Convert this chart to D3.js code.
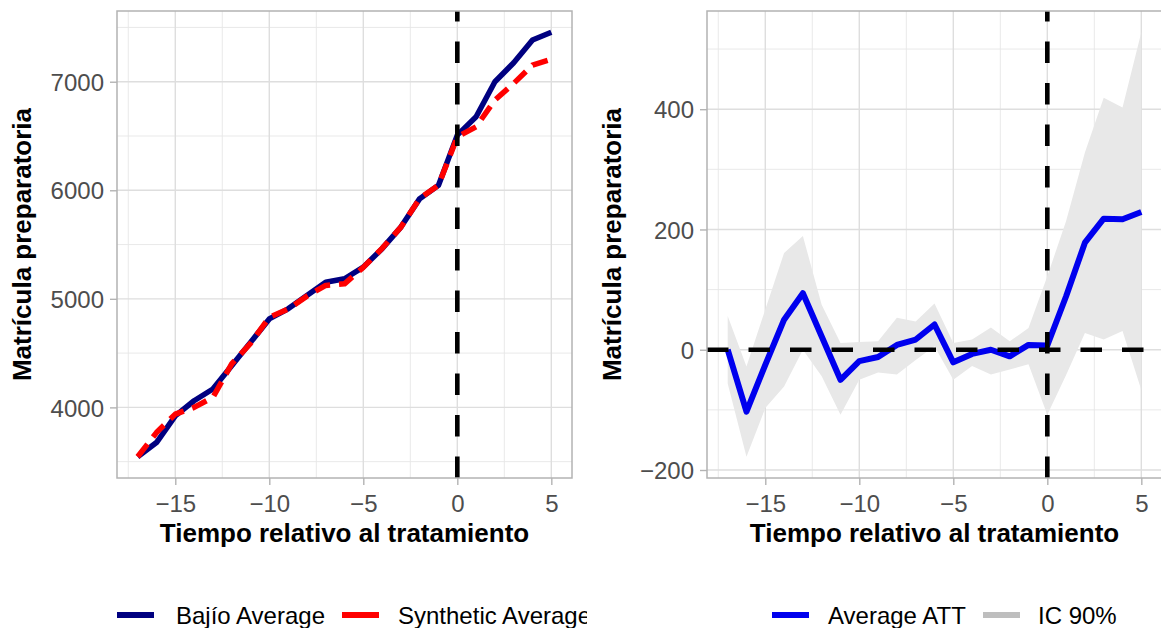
<!DOCTYPE html>
<html>
<head>
<meta charset="utf-8">
<script src="https://cdn.jsdelivr.net/npm/d3@7"></script>
<style>
  html, body { margin: 0; padding: 0; background: #fff; }
  svg { display: block; font-family: "Liberation Sans", Arial, Helvetica, sans-serif; }
</style>
</head>
<body>
<svg id="chart" width="1161" height="628"></svg>
<script>
// ---------- data ----------
const periods = [-17,-16,-15,-14,-13,-12,-11,-10,-9,-8,-7,-6,-5,-4,-3,-2,-1,0,1,2,3,4,5];
const bajioAverage = [3545,3676,3922,4061,4169,4384,4599,4815,4908,5030,5153,5185,5292,5462,5661,5923,6046,6508,6677,7000,7175,7385,7456];
const syntheticAverage = [3545,3768,3938,4000,4092,4400,4590,4830,4905,5025,5123,5138,5290,5465,5660,5925,6046,6492,6585,6831,6985,7154,7207];
const averageATT = [0,-103,-25,50,94,22,-50,-19,-12,8,17,42,-21,-7,0,-11,8,7,89,178,218,217,229];
const ciUpper = [56,-28,67,161,189,75,11,13,14,53,47,77,11,17,37,14,36,122,214,328,419,403,528];
const ciLower = [-56,-178,-97,-61,0,-44,-108,-50,-38,-41,-17,6,-50,-27,-41,-33,-24,-108,-42,28,17,31,-67];
const xTicks = [-15,-10,-5,0,5];
const xMinor = [-17.5,-12.5,-7.5,-2.5,2.5];
const leftYTicks = [4000,5000,6000,7000];
const leftYMinor = [3500,4500,5500,6500,7500];
const rightYTicks = [-200,0,200,400];
const rightYMinor = [-100,100,300,500];
const xTitle = "Tiempo relativo al tratamiento";
const yTitle = "Matrícula preparatoria";
const leftLegend = [{label:"Bajío Average", color:"#000080"}, {label:"Synthetic Average", color:"#ff0000"}];
const rightLegend = [{label:"Average ATT", color:"#0000ee"}, {label:"IC 90%", color:"#bebebe"}];

// ---------- helpers ----------
const svg = d3.select("#chart");
const fmt = d => (d < 0 ? "\u2212" + Math.abs(d) : String(d));
function expand(lo, hi, f = 0.05) { const r = hi - lo; return [lo - r * f, hi + r * f]; }

const panelTop = 11, panelBottom = 478;
const panels = [
  { x0: 117, x1: 572, yTicks: leftYTicks, yMinor: leftYMinor,
    ydom: expand(d3.min(bajioAverage.concat(syntheticAverage)), d3.max(bajioAverage.concat(syntheticAverage))) },
  { x0: 707, x1: 1162, yTicks: rightYTicks, yMinor: rightYMinor,
    ydom: expand(d3.min(ciLower), d3.max(ciUpper)) }
];
const xdom = expand(d3.min(periods), d3.max(periods));

const defs = svg.append("defs");
defs.append("clipPath").attr("id", "leftClip")
  .append("rect").attr("x", 0).attr("y", 0).attr("width", 587).attr("height", 628);

panels.forEach((p, i) => {
  const x = d3.scaleLinear().domain(xdom).range([p.x0, p.x1]);
  const y = d3.scaleLinear().domain(p.ydom).range([panelBottom, panelTop]);
  p.x = x; p.y = y;
  const g = svg.append("g");
  const cid = "clip" + i;
  defs.append("clipPath").attr("id", cid)
    .append("rect").attr("x", p.x0).attr("y", panelTop).attr("width", p.x1 - p.x0).attr("height", panelBottom - panelTop);

  g.selectAll(".vminor").data(xMinor).join("line")
    .attr("x1", d => x(d)).attr("x2", d => x(d)).attr("y1", panelTop).attr("y2", panelBottom)
    .attr("stroke", "#e6e6e6").attr("stroke-width", 0.9);
  g.selectAll(".hminor").data(p.yMinor).join("line")
    .attr("y1", d => y(d)).attr("y2", d => y(d)).attr("x1", p.x0).attr("x2", p.x1)
    .attr("stroke", "#e6e6e6").attr("stroke-width", 0.9);
  g.selectAll(".vmajor").data(xTicks).join("line")
    .attr("x1", d => x(d)).attr("x2", d => x(d)).attr("y1", panelTop).attr("y2", panelBottom)
    .attr("stroke", "#dedede").attr("stroke-width", 1.4);
  g.selectAll(".hmajor").data(p.yTicks).join("line")
    .attr("y1", d => y(d)).attr("y2", d => y(d)).attr("x1", p.x0).attr("x2", p.x1)
    .attr("stroke", "#dedede").attr("stroke-width", 1.4);

  p.marks = svg.append("g").attr("clip-path", `url(#${cid})`);
  p.xa = d3.axisBottom(x).tickValues(xTicks).tickFormat(fmt).tickSize(7).tickPadding(6);
  p.ya = d3.axisLeft(y).tickValues(p.yTicks).tickFormat(fmt).tickSize(7).tickPadding(6);
});

// ---------- left panel marks ----------
{
  const p = panels[0];
  const line = d3.line().x((d, i) => p.x(periods[i])).y(d => p.y(d));
  p.marks.append("path").datum(bajioAverage).attr("d", line)
    .attr("fill", "none").attr("stroke", "#000080").attr("stroke-width", 5.5)
    .attr("stroke-linejoin", "round");
  p.marks.append("path").datum(syntheticAverage).attr("d", line)
    .attr("fill", "none").attr("stroke", "#ff0000").attr("stroke-width", 5.5)
    .attr("stroke-dasharray", "16,9").attr("stroke-linejoin", "round");
  p.marks.append("line")
    .attr("x1", p.x(0)).attr("x2", p.x(0)).attr("y1", panelBottom).attr("y2", panelTop)
    .attr("stroke", "#000").attr("stroke-width", 4.6).attr("stroke-dasharray", "21.5,20");
}
// ---------- right panel marks ----------
{
  const p = panels[1];
  const area = d3.area().x((d, i) => p.x(periods[i])).y0((d, i) => p.y(ciLower[i])).y1(d => p.y(d));
  p.marks.append("path").datum(ciUpper).attr("d", area).attr("fill", "#e8e8e8");
  const line = d3.line().x((d, i) => p.x(periods[i])).y(d => p.y(d));
  p.marks.append("path").datum(averageATT).attr("d", line)
    .attr("fill", "none").attr("stroke", "#0000ee").attr("stroke-width", 6)
    .attr("stroke-linejoin", "round");
  p.marks.append("line")
    .attr("x1", p.x0).attr("x2", p.x1).attr("y1", p.y(0)).attr("y2", p.y(0))
    .attr("stroke", "#000").attr("stroke-width", 4.6).attr("stroke-dasharray", "21.5,20");
  p.marks.append("line")
    .attr("x1", p.x(0)).attr("x2", p.x(0)).attr("y1", panelBottom).attr("y2", panelTop)
    .attr("stroke", "#000").attr("stroke-width", 4.6).attr("stroke-dasharray", "21.5,20");
}

// ---------- borders, axes, titles ----------
panels.forEach((p, i) => {
  svg.append("rect").attr("x", p.x0).attr("y", panelTop).attr("width", p.x1 - p.x0).attr("height", panelBottom - panelTop)
    .attr("fill", "none").attr("stroke", "#b3b3b3").attr("stroke-width", 1.5);

  const gx = svg.append("g").attr("transform", `translate(0,${panelBottom})`).call(p.xa);
  const gy = svg.append("g").attr("transform", `translate(${p.x0},0)`).call(p.ya);
  [gx, gy].forEach(ax => {
    ax.select(".domain").remove();
    ax.selectAll(".tick line").attr("stroke", "#b3b3b3").attr("stroke-width", 1.4);
    ax.selectAll(".tick text").attr("fill", "#4d4d4d").style("font-size", "24px")
      .style("font-family", '"Liberation Sans", Arial, sans-serif');
  });
  gx.selectAll(".tick text").attr("dy", null).attr("y", 34);
  gy.selectAll(".tick text").attr("dy", "0.36em");

  const cx = (p.x0 + p.x1) / 2;
  svg.append("text").attr("x", cx).attr("y", 542).attr("text-anchor", "middle")
    .style("font-size", "26px").style("font-weight", "bold").attr("fill", "#000").text(xTitle);
  const tx = i === 0 ? 31 : 621;
  svg.append("text").attr("transform", `translate(${tx},${(panelTop + panelBottom) / 2}) rotate(-90)`)
    .attr("text-anchor", "middle")
    .style("font-size", "26px").style("font-weight", "bold").attr("fill", "#000").text(yTitle);
});

// ---------- legends ----------
function legend(items, keyXs, textXs, clip) {
  const g = svg.append("g");
  if (clip) g.attr("clip-path", "url(#leftClip)");
  items.forEach((it, i) => {
    g.append("line").attr("x1", keyXs[i]).attr("x2", keyXs[i] + 37).attr("y1", 615).attr("y2", 615)
      .attr("stroke", it.color).attr("stroke-width", 6);
    g.append("text").attr("x", textXs[i]).attr("y", 624).style("font-size", "24px").attr("fill", "#000").text(it.label);
  });
}
legend(leftLegend, [117, 342], [176, 398], true);
legend(rightLegend, [772, 983], [828, 1038], false);
</script>
</body>
</html>
